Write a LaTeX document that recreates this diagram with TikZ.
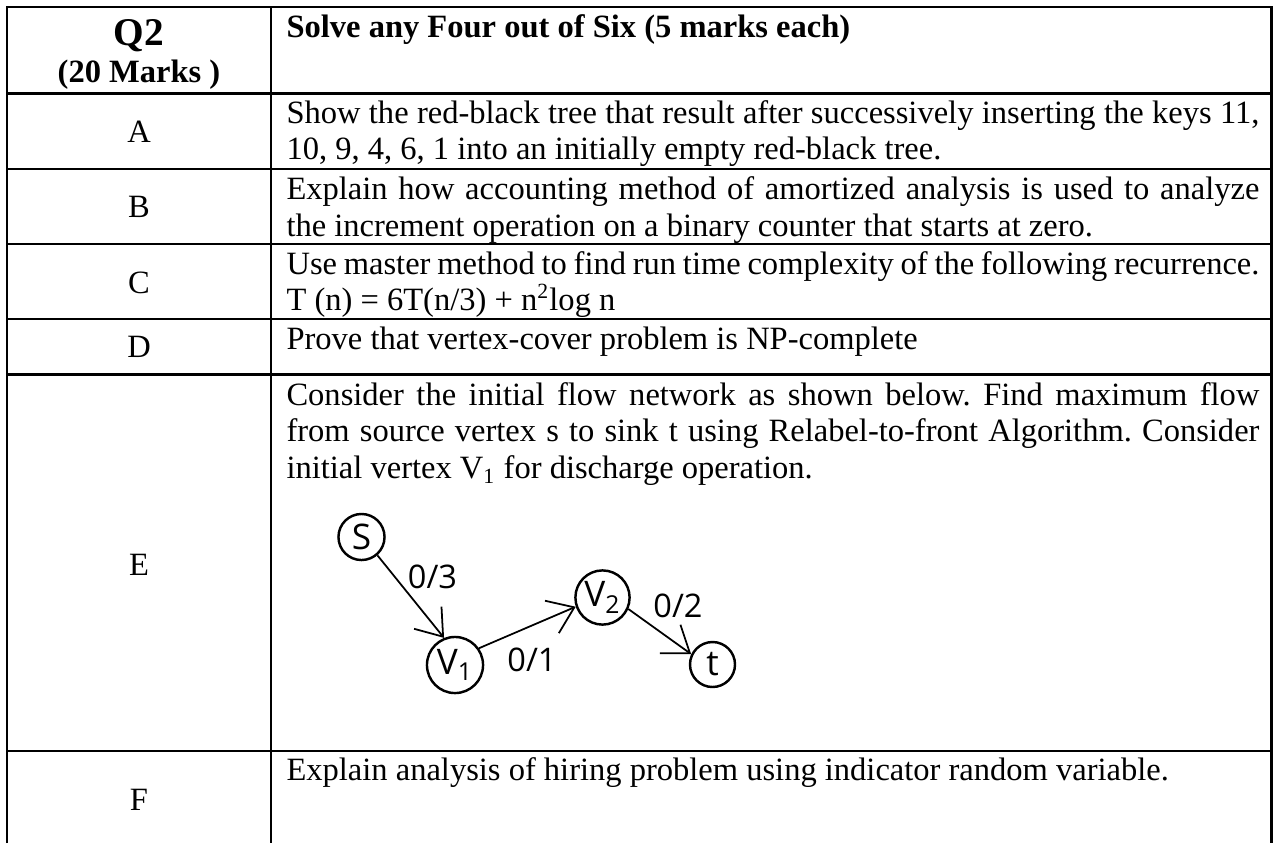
\documentclass[tikz,border=0pt]{standalone}
\usepackage{fontspec}
\setmainfont{Liberation Serif}
\newfontfamily\handfont{Open Sans}
\usetikzlibrary{arrows.meta}
\frenchspacing

\begin{document}
\begin{tikzpicture}[x=0.369pt,y=-0.369pt,
  rule/.style={line width=0.92pt},
  body/.style={inner sep=0pt,font=\fontsize{12}{13.55}\selectfont},
  cell/.style={body,anchor=base west,text width=359pt,align=justify},
  tag/.style={body,anchor=base},
  vtx/.style={circle,draw,line width=0.9pt,inner sep=0pt,font=\handfont\fontsize{13}{15}\selectfont},
  flow/.style={line width=0.65pt,-{Straight Barb[length=9pt,width=13pt]}},
  flowlabel/.style={inner sep=0pt,font=\handfont\fontsize{12}{14}\selectfont}
]
\fill[white] (0,0) rectangle (1275,843);
\useasboundingbox (0,0) rectangle (1275,843);

% table frame and rules
\draw[rule] (7,843) -- (7,7) -- (1271.7,7) -- (1271.7,843);
\draw[rule] (271,7) -- (271,843);
\foreach \yy in {93.5,169,244,319,374.5,751}
  \draw[rule] (7,\yy) -- (1271.7,\yy);

% header row
\node[body,anchor=base,font=\bfseries\fontsize{14.5}{16}\selectfont] (qno) at (139,45.7) {Q2};
\node[body,anchor=base,font=\bfseries\fontsize{12}{13.55}\selectfont] (qmarks) at (139,82) {(20 Marks )};
\node[body,anchor=base west,font=\bfseries\fontsize{12}{13.55}\selectfont] (hdr) at (286,37) {Solve any Four out of Six (5 marks each)};

% question labels
\node[tag] (la) at (139,142) {A};
\node[tag] (lb) at (139,217) {B};
\node[tag] (lc) at (139,293) {C};
\node[tag] (ld) at (139,357) {D};
\node[tag] (le) at (139,575) {E};
\node[tag] (lf) at (139,810) {F};

% question texts
\node[cell] (qa) at (286,123) {Show the red-black tree that result after successively inserting the keys 11,\linebreak 10, 9, 4, 6, 1 into an initially empty red-black tree.};
\node[cell] (qb) at (286,199.5) {Explain how accounting method of amortized analysis is used to analyze\linebreak the increment operation on a binary counter that starts at zero.};
\node[cell] (qc) at (286,274) {Use master method to find run time complexity of the following recurrence.\linebreak T (n) = 6T(n/3) + n\textsuperscript{2}log n};
\node[cell] (qd) at (286,349) {Prove that vertex-cover problem is NP-complete};
\node[cell] (qe) at (286,405) {Consider the initial flow network as shown below. Find maximum flow\linebreak from source vertex s to sink t using Relabel-to-front Algorithm. Consider\linebreak initial vertex V\textsubscript{1} for discharge operation.};
\node[cell] (qf) at (286,780) {Explain analysis of hiring problem using indicator random variable.};

% flow network
\node[vtx,minimum size=17pt] (s) at (361.5,537) {S};
\node[vtx,minimum size=20.7pt] (v1) at (455,665) {V\textsubscript{1}};
\node[vtx,minimum size=20pt] (v2) at (602.5,597.5) {V\textsubscript{2}};
\node[vtx,minimum size=16.6pt] (t) at (712.5,664.5) {t};

\draw[flow] (s.-49) -- (v1.112);
\draw[flow] (v1.35) -- (v2.199);
\draw[flow] (v2.-24) -- (t.154);

\node[flowlabel] (c1) at (432.5,577) {0/3};
\node[flowlabel] (c2) at (532,660) {0/1};
\node[flowlabel] (c3) at (678,606) {0/2};
\end{tikzpicture}
\end{document}
